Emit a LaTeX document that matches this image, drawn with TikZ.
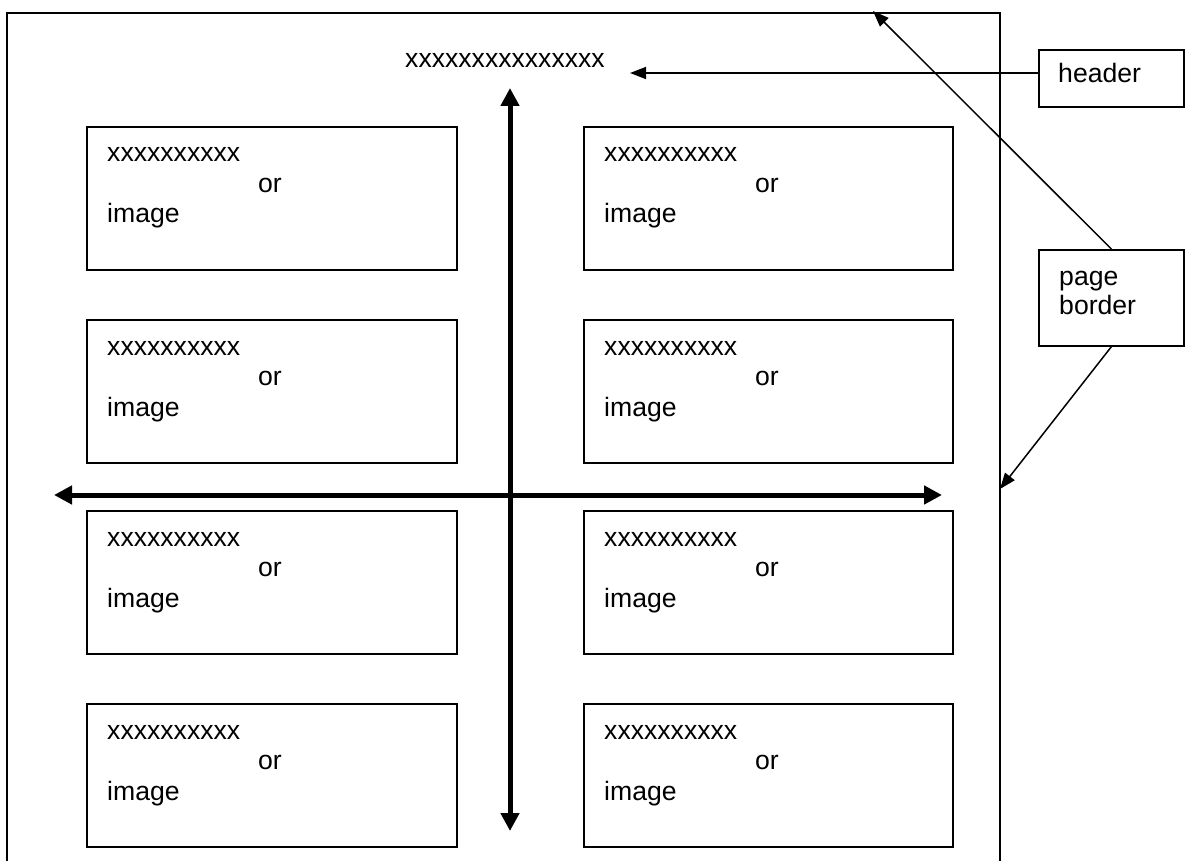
\documentclass[tikz,border=0pt]{standalone}
\usepackage{fontspec}
\setmainfont{Liberation Sans}
\usetikzlibrary{arrows.meta}
\newcommand\celltext{\vtop{\baselineskip=30.5pt\hbox{xxxxxxxxxx}\hbox{\hskip151pt or}\hbox{image}}}
\begin{document}
\begin{tikzpicture}[x=1pt,y=-1pt,
  every node/.style={font=\fontsize{26.6}{30.5}\selectfont},
  cellbox/.style={draw, line width=1.6pt, rectangle, inner sep=0pt, anchor=north west, minimum width=370pt, minimum height=143pt},
  notebox/.style={draw, line width=1.7pt, rectangle, inner sep=0pt, anchor=north west, minimum width=145pt},
  txt/.style={anchor=base west, inner sep=0pt},
  thinarrow/.style={line width=1.5pt, -{Triangle[length=16pt,width=12pt]}},
  bigarrow/.style={line width=5pt, {Triangle[length=18pt,width=18pt]}-{Triangle[length=18pt,width=18pt]}}
]
\useasboundingbox (0,0) rectangle (1190,861);
\fill[white] (0,0) rectangle (1190,861);
% page border
\draw[line width=2pt] (7,875) -- (7,13) -- (1000,13) -- (1000,875);
% header title
\node[txt] (title) at (405,68) {xxxxxxxxxxxxxxx};
% content boxes
\foreach \r/\yy in {1/126,2/319,3/510,4/703} {
  \node[cellbox] (L\r) at (86,\yy) {};
  \node[cellbox, minimum width=369pt] (R\r) at (583,\yy) {};
  \node[txt] (Lt\r) at (107,\yy+36) {\celltext};
  \node[txt] (Rt\r) at (604,\yy+36) {\celltext};
}
% callout boxes
\node[notebox, minimum height=57pt] (hdr) at (1038,49) {};
\node[txt] (hdrt) at (1058,83) {header};
\node[notebox, minimum height=96pt] (pb) at (1038,249) {};
\node[txt] (pbt) at (1059,285) {\vtop{\baselineskip=29.5pt\hbox{page}\hbox{border}}};
% thick axes
\coordinate (vt) at (510,88);
\coordinate (vb) at (510,831);
\coordinate (hl) at (54,495);
\coordinate (hr) at (942,495);
\draw[bigarrow] (vt) -- (vb);
\draw[bigarrow] (hl) -- (hr);
% callout arrows
\coordinate (htip) at (630,73);
\coordinate (ptop) at (873,11);
\coordinate (pbot) at (1000,489);
\draw[thinarrow] (hdr.west |- htip) -- (htip);
\draw[thinarrow] (pb.north) -- (ptop);
\draw[thinarrow] (pb.south) -- (pbot);
\end{tikzpicture}
\end{document}
